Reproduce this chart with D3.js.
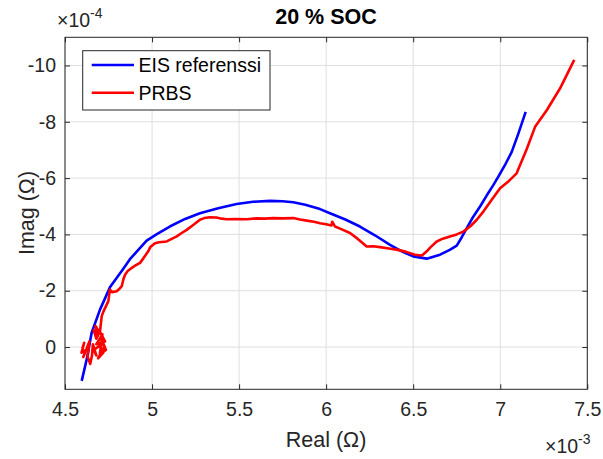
<!DOCTYPE html>
<html><head><meta charset="utf-8">
<script src="https://cdn.jsdelivr.net/npm/d3@7"></script>
<style>body{margin:0;background:#fff;} text{font-family:"Liberation Sans",Arial,sans-serif;}</style>
</head><body>
<svg id="c" width="603" height="459"></svg>
<script>
// Data: real in units of 1e-3 Ω, imag in units of 1e-4 Ω
const eisReal = [4.596,4.625,4.653,4.701,4.758,4.835,4.873,4.921,4.969,5.03,5.102,5.19,5.275,5.38,5.486,5.58,5.678,5.75,5.811,5.88,5.965,6.022,6.11,6.194,6.28,6.367,6.44,6.50,6.578,6.654,6.71,6.75,6.779,6.81,6.845,6.885,6.922,6.96,6.989,7.03,7.066,7.104,7.146];
const eisImag = [1.20,0.43,-0.51,-1.33,-2.12,-2.78,-3.12,-3.45,-3.78,-4.02,-4.28,-4.55,-4.75,-4.93,-5.08,-5.16,-5.19,-5.18,-5.14,-5.05,-4.90,-4.75,-4.53,-4.28,-3.97,-3.63,-3.38,-3.22,-3.14,-3.28,-3.45,-3.60,-3.90,-4.25,-4.63,-5.0,-5.38,-5.75,-6.05,-6.5,-6.93,-7.58,-8.35];
const prbsReal = [4.60,4.61,4.595,4.62,4.605,4.64,4.63,4.645,4.655,4.66,4.68,4.665,4.70,4.72,4.69,4.725,4.71,4.735,4.70,4.715,4.68,4.73,4.70,4.68,4.665,4.69,4.675,4.70,4.711,4.72,4.749,4.758,4.77,4.797,4.81,4.826,4.835,4.845,4.86,4.883,4.90,4.931,4.95,4.978,4.99,5.017,5.04,5.084,5.11,5.142,5.17,5.199,5.24,5.275,5.30,5.333,5.37,5.40,5.429,5.48,5.544,5.60,5.65,5.696,5.75,5.811,5.85,5.888,5.93,5.965,6.00,6.03,6.035,6.051,6.09,6.137,6.18,6.233,6.27,6.309,6.36,6.405,6.46,6.510,6.55,6.578,6.60,6.635,6.67,6.711,6.75,6.788,6.83,6.865,6.903,6.95,6.999,7.05,7.094,7.15,7.20,7.267,7.343,7.425];
const prbsImag = [0.05,-0.15,0.2,0.1,0.35,-0.2,0.35,0.6,0.3,-0.1,0.3,0.1,-0.05,0.2,0.4,0.0,-0.3,0.1,0.25,-0.45,-0.1,-0.2,-0.55,-0.3,-0.6,-0.4,-0.75,-0.5,-1.10,-1.25,-1.63,-2.04,-1.95,-1.98,-2.05,-2.16,-2.40,-2.57,-2.70,-2.81,-2.88,-2.99,-3.15,-3.40,-3.55,-3.69,-3.72,-3.75,-3.83,-3.93,-4.05,-4.16,-4.35,-4.52,-4.58,-4.61,-4.60,-4.56,-4.54,-4.55,-4.54,-4.57,-4.56,-4.58,-4.57,-4.58,-4.53,-4.49,-4.45,-4.40,-4.36,-4.32,-4.45,-4.28,-4.18,-4.05,-3.85,-3.57,-3.58,-3.55,-3.50,-3.46,-3.38,-3.28,-3.25,-3.40,-3.55,-3.75,-3.85,-3.93,-4.00,-4.10,-4.30,-4.52,-4.81,-5.22,-5.64,-5.90,-6.17,-7.00,-7.82,-8.41,-9.18,-10.20];
const xTicks = [4.5,5,5.5,6,6.5,7,7.5];
const yTicks = [-10,-8,-6,-4,-2,0];
const seriesNames = ["EIS referenssi","PRBS"];
const seriesColors = ["#0000ff","#ff0000"];

const svg = d3.select("#c");
const L=65, R=587.3, T=37.3, B=389.3;
const x = d3.scaleLinear().domain([4.5,7.5]).range([L,R]);
const y = d3.scaleLinear().domain([-11,1.5]).range([T,B]);
const axisCol="#262626";
const tickFont="19.5px";

// grid
const g = svg.append("g");
g.selectAll(".gx").data(xTicks).enter().append("line")
 .attr("x1",d=>x(d)).attr("x2",d=>x(d)).attr("y1",T).attr("y2",B)
 .attr("stroke","#dfdfdf").attr("stroke-width",1);
g.selectAll(".gy").data(yTicks).enter().append("line")
 .attr("y1",d=>y(d)).attr("y2",d=>y(d)).attr("x1",L).attr("x2",R)
 .attr("stroke","#dfdfdf").attr("stroke-width",1);

// axes with inward ticks
const fmt = d=>String(d);
const ax = svg.append("g").attr("transform",`translate(0,${B})`)
 .call(d3.axisBottom(x).tickValues(xTicks).tickSizeInner(-5).tickSizeOuter(0).tickPadding(13).tickFormat(fmt));
const axT = svg.append("g").attr("transform",`translate(0,${T})`)
 .call(d3.axisTop(x).tickValues(xTicks).tickSizeInner(-5).tickSizeOuter(0).tickFormat(""));
const ay = svg.append("g").attr("transform",`translate(${L},0)`)
 .call(d3.axisLeft(y).tickValues(yTicks).tickSizeInner(-5).tickSizeOuter(0).tickPadding(9).tickFormat(fmt));
const ayR = svg.append("g").attr("transform",`translate(${R},0)`)
 .call(d3.axisRight(y).tickValues(yTicks).tickSizeInner(-5).tickSizeOuter(0).tickFormat(""));
[ax,axT,ay,ayR].forEach(a=>{
  a.select(".domain").remove();
  a.selectAll("line").attr("stroke",axisCol);
  a.selectAll("text").attr("fill",axisCol).style("font-size",tickFont).style("font-family","'Liberation Sans',Arial,sans-serif");
});
svg.append("rect").attr("x",L).attr("y",T).attr("width",R-L).attr("height",B-T)
 .attr("fill","none").attr("stroke",axisCol).attr("stroke-width",1);

// lines
const clipId="clip";
svg.append("clipPath").attr("id",clipId).append("rect").attr("x",L).attr("y",T).attr("width",R-L).attr("height",B-T);
const line = d3.line().x(d=>x(d[0])).y(d=>y(d[1]));
const eis = eisReal.map((v,i)=>[v,eisImag[i]]);
const prbs = prbsReal.map((v,i)=>[v,prbsImag[i]]);
svg.append("path").datum(eis).attr("d",line).attr("fill","none").attr("stroke",seriesColors[0]).attr("stroke-width",2.6).attr("stroke-linejoin","round").attr("clip-path",`url(#${clipId})`);
svg.append("path").datum(prbs).attr("d",line).attr("fill","none").attr("stroke",seriesColors[1]).attr("stroke-width",2.6).attr("stroke-linejoin","round").attr("clip-path",`url(#${clipId})`);

// legend
const lg = svg.append("g");
lg.append("rect").attr("x",82.7).attr("y",50.7).attr("width",187.3).attr("height",59.3)
 .attr("fill","#fff").attr("stroke",axisCol).attr("stroke-width",1);
seriesNames.forEach((n,i)=>{
  const yy = 65 + i*27.7;
  lg.append("line").attr("x1",91.7).attr("x2",134).attr("y1",yy).attr("y2",yy).attr("stroke",seriesColors[i]).attr("stroke-width",2.6);
  lg.append("text").attr("x",138.5).attr("y",yy+7).attr("fill","#000").style("font-size",tickFont).text(n);
});

// title and labels
svg.append("text").attr("x",326).attr("y",24).attr("text-anchor","middle").attr("font-weight","bold").style("font-size","21.5px").attr("fill","#000").text("20 % SOC");
svg.append("text").attr("x",326).attr("y",447).attr("text-anchor","middle").style("font-size","21.5px").attr("fill",axisCol).text("Real (Ω)");
svg.append("text").attr("transform","translate(34,213) rotate(-90)").attr("text-anchor","middle").style("font-size","21.5px").attr("fill",axisCol).text("Imag (Ω)");
// exponent labels
const e1 = svg.append("text").attr("x",57).attr("y",27).style("font-size",tickFont).attr("fill",axisCol);
e1.append("tspan").text("×10");
e1.append("tspan").attr("dy",-9).style("font-size","14px").text("-4");
const e2 = svg.append("text").attr("x",545).attr("y",453).style("font-size",tickFont).attr("fill",axisCol);
e2.append("tspan").text("×10");
e2.append("tspan").attr("dy",-9).style("font-size","14px").text("-3");
</script>
</body></html>
